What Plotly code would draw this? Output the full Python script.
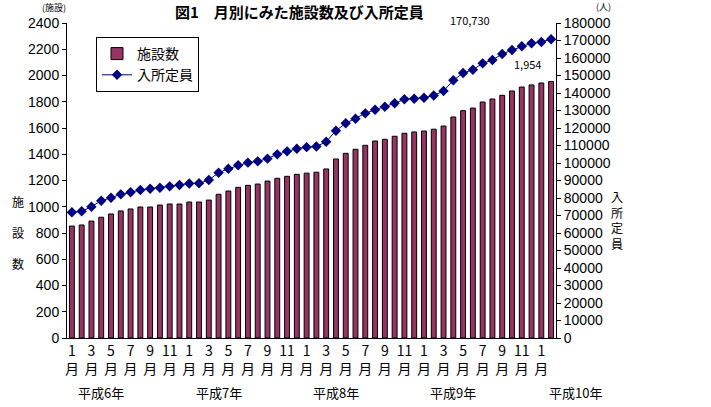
import plotly.graph_objects as go

months = list(range(50))
facilities = [853, 861, 891, 920, 945, 968, 983, 998, 998, 1013, 1021, 1021, 1036, 1036, 1051, 1095,
              1120, 1148, 1163, 1173, 1196, 1217, 1232, 1247, 1256, 1263, 1288, 1364, 1407, 1438,
              1468, 1501, 1514, 1537, 1560, 1570, 1577, 1591, 1615, 1684, 1732, 1752, 1798, 1821,
              1849, 1882, 1912, 1928, 1943, 1954]
capacity = [71820, 72400, 75030, 78460, 80170, 82100, 83250, 84570, 85320, 85890, 86650, 87420,
            88300, 88400, 90280, 94460, 96740, 98680, 100200, 100950, 102480, 104950, 106660,
            108180, 109050, 109400, 112170, 118450, 122680, 125300, 128380, 130460, 132170,
            134100, 136400, 136740, 137310, 138550, 141140, 147250, 151430, 153310, 156950,
            158850, 162280, 164560, 166680, 168400, 169130, 170730]
tick_pos = list(range(0, 49, 2))
tick_text = [f"{m}<br>月" for m in [1, 3, 5, 7, 9, 11] * 4 + [1]]
year_labels = ["平成6年", "平成7年", "平成8年", "平成9年", "平成10年"]
year_pos = [3, 15, 27, 39, 51.5]

FONT = "Liberation Sans, Noto Sans CJK JP, sans-serif"
CJK = "Noto Sans CJK JP, sans-serif"

# body margin is removed below, so layout uses screen coordinates directly
W, H = 711, 407
L, R, T, B = 67, 556, 23, 338
N = len(months)

fig = go.Figure()
fig.add_trace(go.Bar(x=months, y=facilities, name="施設数", width=0.5,
                     marker=dict(color="#993366", line=dict(color="black", width=1))))
fig.add_trace(go.Scatter(x=months, y=capacity, name="入所定員", yaxis="y2", mode="lines+markers",
                         line=dict(color="#000080", width=1),
                         marker=dict(symbol="diamond", size=8, color="#000080")))

fig.update_layout(
    width=W, height=H,
    margin=dict(l=L, r=W - R, t=T, b=H - B),
    paper_bgcolor="white", plot_bgcolor="white",
    font=dict(family=FONT, color="black", size=14),
    showlegend=True,
    legend=dict(x=(96 - L) / (R - L), y=(B - 37) / (B - T), xanchor="left", yanchor="top",
                bgcolor="white", bordercolor="black", borderwidth=1,
                font=dict(family=CJK, size=14), tracegroupgap=0, itemwidth=30),
    xaxis=dict(range=[-0.5, N - 0.5], tickmode="array", tickvals=tick_pos, ticktext=tick_text,
               showgrid=False, zeroline=False, showline=True, linecolor="black", linewidth=1,
               ticks="", tickfont=dict(family=CJK, size=14)),
    yaxis=dict(range=[0, 2400], dtick=200, showgrid=False, zeroline=False,
               showline=True, linecolor="black", linewidth=1, ticks="outside", ticklen=4,
               tickcolor="black", tickfont=dict(size=14)),
    yaxis2=dict(range=[0, 180000], dtick=10000, overlaying="y", side="right", showgrid=False,
                zeroline=False, showline=True, linecolor="black", linewidth=1, ticks="outside",
                ticklen=4, tickcolor="black", tickfont=dict(size=14), tickformat="d"),
)

ann = [
    dict(text="<b>図1　月別にみた施設数及び入所定員</b>", x=299, y=12, size=15),
    dict(text="(施設)", x=54, y=8, size=9),
    dict(text="(人)", x=603, y=7, size=9),
    dict(text="施<br><br>設<br><br>数", x=18, y=232, size=12),
    dict(text="入<br>所<br>定<br>員", x=617, y=220, size=12),
    dict(text="170,730", x=470, y=20, size=11),
    dict(text="1,954", x=527, y=64, size=11),
]
for a in ann:
    fig.add_annotation(text=a["text"], x=(a["x"] - L) / (R - L), y=(B - a["y"]) / (B - T),
                       xref="paper", yref="paper", showarrow=False, xanchor="center", yanchor="middle",
                       borderpad=0, font=dict(family=CJK, size=a["size"], color="black"))
for lbl, p in zip(year_labels, year_pos):
    fig.add_annotation(text=lbl, x=(p + 0.5) / N, y=(B - 392) / (B - T), xref="paper", yref="paper",
                       showarrow=False, xanchor="center", yanchor="middle",
                       font=dict(family=CJK, size=13, color="black"))

fig.write_html("out.html", config={"displayModeBar": False},
               post_script="document.body.style.margin='0';")
